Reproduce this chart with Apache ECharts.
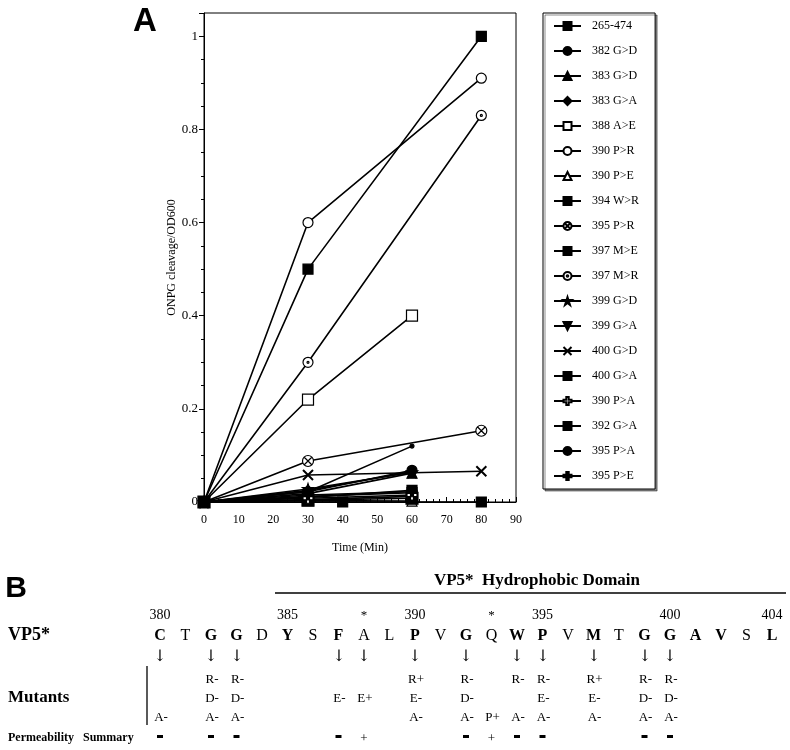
<!DOCTYPE html>
<html>
<head>
<meta charset="utf-8">
<script src="https://cdn.jsdelivr.net/npm/echarts@6/dist/echarts.min.js"></script>
<style>
html,body{margin:0;padding:0;background:#fff;}
#main{width:790px;height:750px;}
</style>
</head>
<body>
<div id="main"></div>
<script>
// ---------- Panel A data ----------
const seriesNames = ['265-474','382 G>D','383 G>D','383 G>A','388 A>E','390 P>R','390 P>E','394 W>R','395 P>R','397 M>E','397 M>R','399 G>D','399 G>A','400 G>D','400 G>A','390 P>A','392 G>A','395 P>A','395 P>E'];
const d265_474 = [[0,0],[30,0.50],[80,1.00]];
const d382GD = [[0,0],[30,0.022],[60,0.068]];
const d383GD = [[0,0],[30,0.018],[60,0.062]];
const d383GA = [[0,0],[30,0.025],[60,0.065]];
const d388AE = [[0,0],[30,0.22],[60,0.40]];
const d390PR = [[0,0],[30,0.60],[80,0.91]];
const d390PE = [[0,0],[30,0.003],[60,0.002]];
const d394WR = [[0,0],[30,0.010],[60,0.025]];
const d395PR = [[0,0],[30,0.088],[80,0.153]];
const d397ME = [[0,0],[30,0.012],[60,0.020]];
const d397MR = [[0,0],[30,0.30],[80,0.83]];
const d399GD = [[0,0],[30,0.028],[60,0.064]];
const d399GA = [[0,0],[30,0.005],[60,0.012]];
const d400GD = [[0,0],[30,0.058],[80,0.066]];
const d400GA = [[0,0],[30,0.004],[60,0.008]];
const d390PA = [[0,0],[30,0.008],[60,0.015]];
const d392GA = [[0,0],[40,0.0],[80,0.0]];
const d395PA = [[0,0],[30,0.022],[60,0.12]];
const d395PE = [[0,0],[30,0.015],[60,0.022]];
const seriesData = [d265_474,d382GD,d383GD,d383GA,d388AE,d390PR,d390PE,d394WR,d395PR,d397ME,d397MR,d399GD,d399GA,d400GD,d400GA,d390PA,d392GA,d395PA,d395PE];
const xTicks = [0,10,20,30,40,50,60,70,80,90];
const yTicks = [0,0.2,0.4,0.6,0.8,1];

// ---------- Panel B data ----------
const residues = ['C','T','G','G','D','Y','S','F','A','L','P','V','G','Q','W','P','V','M','T','G','G','A','V','S','L'];
const residueBold = [1,0,1,1,0,1,0,1,0,0,1,0,1,0,1,1,0,1,0,1,1,1,1,0,1];
const numberCols = [0,5,10,15,20,24];
const numberLabels = ['380','385','390','395','400','404'];
const starCols = [8,13];
const arrowCols = [0,2,3,7,8,10,12,14,15,17,19,20];
const mutRow1 = ['','','R-','R-','','','','','','','R+','','R-','','R-','R-','','R+','','R-','R-','','','',''];
const mutRow2 = ['','','D-','D-','','','','E-','E+','','E-','','D-','','','E-','','E-','','D-','D-','','','',''];
const mutRow3 = ['A-','','A-','A-','','','','','','','A-','','A-','P+','A-','A-','','A-','','A-','A-','','','',''];
const permeability = ['-','','-','-','','','','-','+','','','','-','+','-','-','','','','-','-','','','',''];

// ---------- symbols ----------
const SERIF = '"Liberation Serif","Times New Roman",serif';
const pCircleX = 'path://M0,5A5,5,0,1,1,10,5A5,5,0,1,1,0,5ZM1.6,1.6L8.4,8.4M8.4,1.6L1.6,8.4';
const pCircleDot = 'path://M0,5A5,5,0,1,1,10,5A5,5,0,1,1,0,5ZM4,5A1,1,0,1,1,6,5A1,1,0,1,1,4,5Z';
const pStar = 'path://M5,0L6.2,3.6L10,3.6L6.9,5.8L8.1,9.5L5,7.2L1.9,9.5L3.1,5.8L0,3.6L3.8,3.6Z';
const pInvTri = 'path://M0,0L10,0L5,9Z';
const pX = 'path://M0,0L10,10M10,0L0,10';
const pVBar = 'path://M4.4,0L5.6,0L5.6,10L4.4,10Z';
const pCross = 'path://M3.5,0L6.5,0L6.5,3.5L10,3.5L10,6.5L6.5,6.5L6.5,10L3.5,10L3.5,6.5L0,6.5L0,3.5L3.5,3.5Z';
const pHalfSq = 'path://M0,0L10,0L10,10L0,10Z';
const symbolSpecs = [
  {s:'rect', z:10, fill:'#000'},
  {s:'circle', z:10, fill:'#000'},
  {s:'triangle', z:10, fill:'#000'},
  {s:'diamond', z:10, fill:'#000'},
  {s:'rect', z:11, fill:'#fff'},
  {s:'circle', z:10, fill:'#fff'},
  {s:'triangle', z:10, fill:'#fff'},
  {s:pHalfSq, z:10, fill:'#000'},
  {s:pCircleX, z:11, fill:'#fff'},
  {s:'rect', z:10, fill:'#000'},
  {s:pCircleDot, z:10, fill:'#fff'},
  {s:pStar, z:11, fill:'#000'},
  {s:pInvTri, z:10, fill:'#000'},
  {s:pX, z:10, fill:'none'},
  {s:pVBar, z:12, fill:'#000'},
  {s:pCross, z:10, fill:'#fff'},
  {s:'rect', z:10, fill:'#000'},
  {s:'circle', z:4, fill:'#000'},
  {s:pCross, z:10, fill:'#000'}
];

const series = seriesNames.map((name, i) => ({
  name: name,
  type: 'line',
  data: seriesData[i],
  symbol: symbolSpecs[i].s,
  symbolSize: symbolSpecs[i].z,
  showAllSymbol: true,
  animation: false,
  lineStyle: {color:'#000', width:1.6},
  itemStyle: {color: symbolSpecs[i].fill === 'none' ? '#000' : symbolSpecs[i].fill, borderColor:'#000', borderWidth: symbolSpecs[i].fill === 'none' ? 2 : 1.2}
}));

// ---------- Panel B graphics ----------
const colX = i => 160 + i * 25.5;
const graphics = [];
function txt(text, x, y, font, align) {
  graphics.push({type:'text', x:x, y:y, silent:true, style:{text:text, font:font, fill:'#000', textAlign:align||'center', textVerticalAlign:'middle'}});
}
txt('A', 145, 22, 'bold 33px "Liberation Sans",Arial,sans-serif');
txt('B', 16, 589, 'bold 30px "Liberation Sans",Arial,sans-serif');
graphics.push({type:'line', silent:true, shape:{x1:275,y1:593,x2:786,y2:593}, style:{stroke:'#000', lineWidth:1.3}});
txt('VP5*  Hydrophobic Domain', 537, 581, 'bold 17px ' + SERIF);
txt('VP5*', 8, 635, 'bold 18px ' + SERIF, 'left');
txt('Mutants', 8, 698, 'bold 17px ' + SERIF, 'left');
txt('Permeability   Summary', 8, 738, 'bold 12px ' + SERIF, 'left');
graphics.push({type:'line', silent:true, shape:{x1:147,y1:666,x2:147,y2:725}, style:{stroke:'#000', lineWidth:1.3}});
numberCols.forEach((c, k) => txt(numberLabels[k], colX(c), 615, '14px ' + SERIF));
starCols.forEach(c => txt('*', colX(c), 616, '13px ' + SERIF));
residues.forEach((r, i) => txt(r, colX(i), 636, (residueBold[i] ? 'bold ' : '') + '16px ' + SERIF));
arrowCols.forEach(c => txt('\u2193', Math.round(colX(c)), 657, '16px "DejaVu Serif",' + SERIF));
[mutRow1, mutRow2, mutRow3].forEach((row, r) => row.forEach((m, i) => { if (m) txt(m, colX(i) + 1, 680 + r * 19, '13px ' + SERIF); }));
permeability.forEach((p, i) => {
  if (p === '-') graphics.push({type:'rect', silent:true, shape:{x:colX(i)-3, y:735, width:6, height:3}, style:{fill:'#000'}});
  else if (p === '+') txt('+', colX(i), 739, '13px ' + SERIF);
});

const chart = echarts.init(document.getElementById('main'), null, {renderer:'canvas'});
chart.setOption({
  animation: false,
  backgroundColor: '#fff',
  grid: {left:204, top:13, width:312, height:489, show:true, borderColor:'#000', borderWidth:1, backgroundColor:'transparent'},
  xAxis: {
    type:'value', min:0, max:90, interval:10,
    name:'Time (Min)', nameLocation:'middle', nameGap:40,
    nameTextStyle:{fontFamily:SERIF, fontSize:12, color:'#000'},
    axisLine:{lineStyle:{color:'#000', width:1}},
    axisTick:{inside:true, length:5, lineStyle:{color:'#000'}},
    minorTick:{show:true, splitNumber:5, length:3, lineStyle:{color:'#000'}},
    axisLabel:{fontFamily:SERIF, fontSize:12, color:'#000', margin:12, customValues: xTicks},
    splitLine:{show:false}
  },
  yAxis: {
    type:'value', min:0, max:1.05, interval:0.2,
    name:'ONPG cleavage/OD600', nameLocation:'middle', nameGap:26,
    nameTextStyle:{fontFamily:SERIF, fontSize:12, color:'#000'},
    axisLine:{lineStyle:{color:'#000', width:1}},
    axisTick:{inside:false, length:5, lineStyle:{color:'#000'}},
    minorTick:{show:true, splitNumber:4, length:3, lineStyle:{color:'#000'}},
    axisLabel:{fontFamily:SERIF, fontSize:13, color:'#000', margin:6, customValues: yTicks},
    splitLine:{show:false}
  },
  legend: {
    orient:'vertical', left:543, top:13,
    itemWidth:27, itemHeight:10, itemGap:13,
    padding:[7,16,7,10],
    borderColor:'#000', borderWidth:1,
    backgroundColor:'#fff',
    shadowColor:'rgba(0,0,0,0.45)', shadowOffsetX:2, shadowOffsetY:2, shadowBlur:0,
    textStyle:{fontFamily:SERIF, fontSize:12, color:'#000', padding:[0,0,0,6]},
    selectedMode:false,
    data: seriesNames
  },
  series: series,
  graphic: graphics
});
</script>
</body>
</html>
